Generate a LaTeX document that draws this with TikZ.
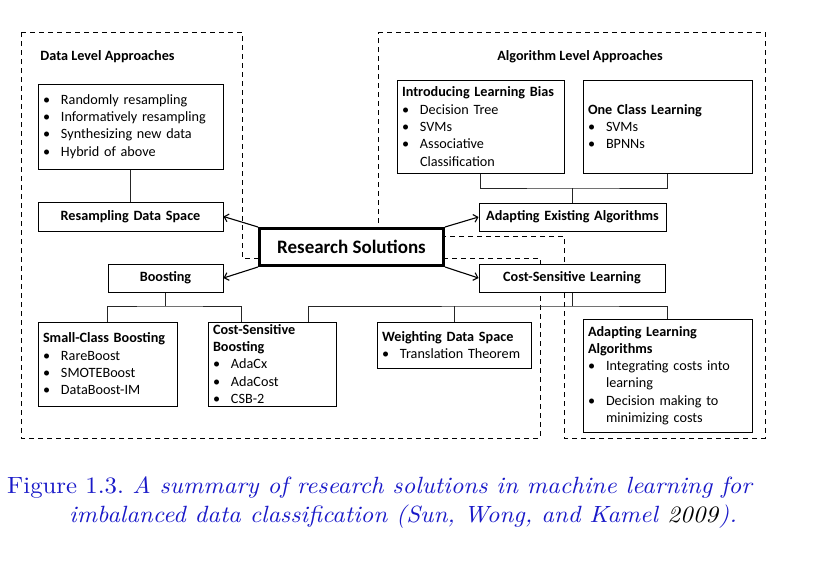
\documentclass[tikz,border=0pt]{standalone}
\usepackage{fontspec}
\setmainfont{Carlito}
\newfontfamily\capfont[ItalicFont=lmroman10-italic.otf, FakeStretch=1.055]{lmroman10-regular.otf}
\usetikzlibrary{arrows.meta}
\definecolor{capblue}{RGB}{25,25,200}
\newcommand\itm[1]{\hspace*{0pt}\makebox[18pt][l]{\textbullet}#1}
\newcommand\cnt[1]{\hspace*{18pt}#1}
\begin{document}
\begin{tikzpicture}[x=1pt,y=-1pt,
  region/.style={draw, line width=1pt, dash pattern=on 5pt off 4pt},
  lbox/.style={draw, fill=white, line width=1pt, inner xsep=5pt, inner ysep=0pt, align=left, font=\fontsize{14.2}{17.3}\selectfont},
  cbox/.style={draw, fill=white, line width=1pt, inner xsep=5pt, inner ysep=0pt, align=center, font=\bfseries\fontsize{14.2}{17.3}\selectfont},
  heading/.style={font=\bfseries\fontsize{14.2}{17.3}\selectfont, inner sep=0pt},
  link/.style={draw=black!85, line width=1pt},
  arr/.style={draw, line width=1.1pt, -{Straight Barb[length=4pt,width=8pt]}}
]
\useasboundingbox (0,0) rectangle (834,576);
% dashed regions
\draw[region] (21,32) -- (242,32) -- (242,258) -- (540,258) -- (540,438) -- (21,438) -- cycle;
\draw[region] (378,32) -- (765,32) -- (765,438) -- (564,438) -- (564,236) -- (378,236) -- cycle;

\node[heading] (dla) at (107.5,57) {Data Level Approaches};
\node[heading] (ala0) at (580,57) {Algorithm Level Approaches};

% data level
\node[lbox, text width=175pt, minimum height=85pt] (dlist) at (130.5,126.5)
  {\itm{Randomly resampling}\\ \itm{Informatively resampling}\\ \itm{Synthesizing new data}\\ \itm{Hybrid of above}};
\node[cbox, text width=175pt, minimum height=29pt] (rds) at (130.5,216.5) {Resampling Data Space};
\draw[link] (dlist.south) -- (rds.north);

% algorithm level
\node[lbox, text width=157pt, minimum height=93pt] (ilb) at (480.5,126.5)
  {\textbf{Introducing Learning Bias}\\ \itm{Decision Tree}\\ \itm{SVMs}\\ \itm{Associative}\\ \cnt{Classification}};
\node[lbox, text width=159pt, minimum height=93pt] (ocl) at (667.5,126.5)
  {\textbf{One Class Learning}\\ \itm{SVMs}\\ \itm{BPNNs}};
\node[cbox, text width=177pt, minimum height=28pt] (aea) at (572.5,217) {Adapting Existing Algorithms};
\coordinate (jA) at (572.5,188);
\draw[link] (ilb.south) |- (jA) -| (ocl.south);
\draw[link] (jA) -- (aea.north);

% research solutions
\node[draw, fill=white, line width=3pt, minimum width=184pt, minimum height=37pt, inner sep=0pt,
  font=\bfseries\fontsize{19}{22}\selectfont] (rs) at (351.5,247) {Research Solutions};

% second row
\node[cbox, text width=105pt, minimum height=28pt] (boost) at (165.5,278) {Boosting};
\node[cbox, text width=176pt, minimum height=28pt] (csl) at (572,278) {Cost-Sensitive Learning};

\draw[arr] (rs.north west) -- (rds.east);
\draw[arr] (rs.south west) -- (boost.east);
\draw[arr] (rs.north east) -- (aea.west);
\draw[arr] (rs.south east) -- (csl.west);

% bottom boxes
\node[lbox, text width=129pt, minimum height=84pt] (scb) at (107.5,364)
  {\textbf{Small-Class Boosting}\\ \itm{RareBoost}\\ \itm{SMOTEBoost}\\ \itm{DataBoost-IM}};
\node[lbox, text width=118pt, minimum height=84pt] (csb) at (272,364)
  {\textbf{Cost-Sensitive}\\ \textbf{Boosting}\\ \itm{AdaCx}\\ \itm{AdaCost}\\ \itm{CSB-2}};
\node[lbox, text width=144pt, minimum height=46pt] (wds) at (454,345)
  {\textbf{Weighting Data Space}\\ \itm{Translation Theorem}};
\node[lbox, text width=159pt, minimum height=113pt] (ala) at (667.5,375.5)
  {\textbf{Adapting Learning}\\ \textbf{Algorithms}\\ \itm{Integrating costs into}\\ \cnt{learning}\\ \itm{Decision making to}\\ \cnt{minimizing costs}};

\coordinate (jB) at (165.5,306);
\coordinate (jC) at (572,306);
\draw[link] (boost.south) -- (jB);
\draw[link] (scb.north) |- (jB) -| ([xshift=-31pt]csb.north);
\draw[link] (csl.south) -- (jC);
\draw[link] ([xshift=36pt]csb.north) |- (jC) -| (ala.north);
\draw[link] (wds.north) -- (wds.north |- jC);

% caption
\node[anchor=base west, inner sep=0pt, text=capblue, font=\capfont\fontsize{23.5}{30}\selectfont] (cap1) at (7,493)
  {Figure 1.3.\ \textit{A summary of research solutions in machine learning for}};
\node[anchor=base west, inner sep=0pt, text=capblue, font=\capfont\fontsize{23.5}{30}\selectfont] (cap2) at (69,522)
  {\textit{imbalanced data classification (Sun, Wong, and Kamel} \textcolor{black}{\textit{2009}}\textit{).}};
\end{tikzpicture}
\end{document}
